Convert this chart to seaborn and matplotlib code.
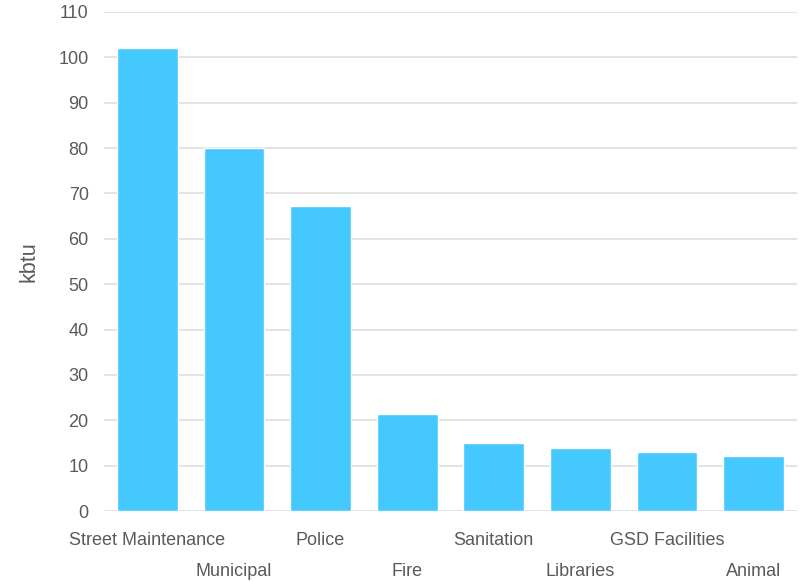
import matplotlib
matplotlib.use("Agg")
import matplotlib.pyplot as plt
import matplotlib.transforms as mtransforms
import seaborn as sns
import pandas as pd

categories = ["Street Maintenance", "Municipal", "Police", "Fire", "Sanitation",
              "Libraries", "GSD Facilities", "Animal"]
values = [102.1, 80.0, 67.2, 21.4, 15.0, 13.9, 12.9, 12.2]
y_ticks = [0, 10, 20, 30, 40, 50, 60, 70, 80, 90, 100, 110]

df = pd.DataFrame({"category": categories, "kbtu": values})

sns.set_style("white")
plt.rcParams["font.family"] = ["Liberation Sans", "DejaVu Sans"]

fig = plt.figure(figsize=(8.05, 5.82), dpi=100)
ax = fig.add_axes([104/805, 71/582, (797-104)/805, (511-12)/582])

sns.barplot(data=df, x="category", y="kbtu", color="#45C8FD", saturation=1,
            width=0.70, ax=ax, zorder=3)

ax.set_xlim(-0.5, len(categories) - 0.5)
ax.set_ylim(0, 110)
ax.set_yticks(y_ticks)
ax.yaxis.grid(True, color="#dddddd", linewidth=1.2, zorder=0)
ax.set_axisbelow(True)
for s in ax.spines.values():
    s.set_visible(False)

ax.set_xlabel("")
ax.set_ylabel("kbtu", fontsize=15.5, color="#5a5a5a", labelpad=14)
ax.tick_params(axis="y", length=0, pad=11, labelsize=13, labelcolor="#5a5a5a")
ax.tick_params(axis="x", length=0, pad=15, labelsize=13, labelcolor="#5a5a5a")

offset = mtransforms.ScaledTranslation(0, -31/100, fig.dpi_scale_trans)
for i, lbl in enumerate(ax.get_xticklabels()):
    if i % 2 == 1:
        lbl.set_transform(lbl.get_transform() + offset)

fig.savefig("out.png", dpi=100)
